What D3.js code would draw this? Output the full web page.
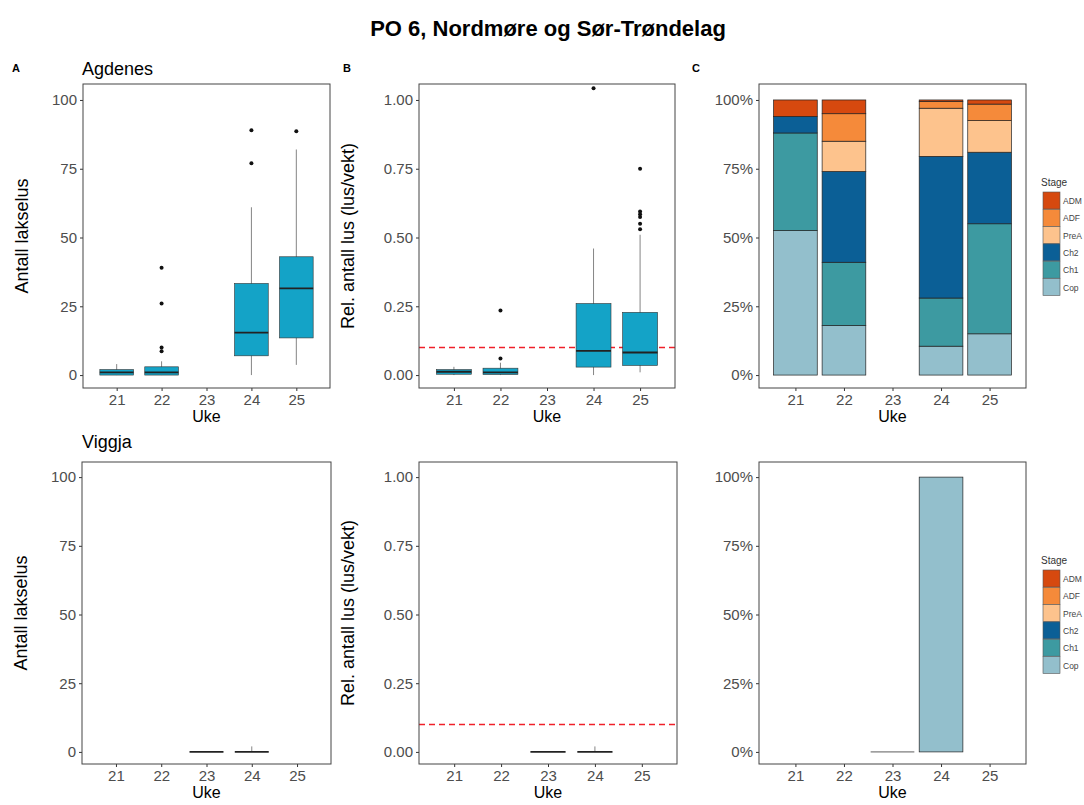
<!DOCTYPE html>
<html><head><meta charset="utf-8">
<script src="https://cdn.jsdelivr.net/npm/d3@7"></script>
<style>body{margin:0;background:#fff}text{font-family:"Liberation Sans",Arial,sans-serif}</style>
</head><body><svg id="c" width="1084" height="805"></svg>
<script>
const weeks = [21,22,23,24,25];
const stages = ["ADM","ADF","PreA","Ch2","Ch1","Cop"];
const stageColors = ["#d6490f","#f58a3a","#fdc38d","#0b5f96","#3d9aa1","#93bfcc"];
// boxplot stats: week, lo, q1, med, q3, hi, outliers
const agdCount = [
  {w:21,lo:0,q1:0,med:1,q3:2,hi:4,out:[]},
  {w:22,lo:0,q1:0,med:1,q3:3,hi:5,out:[39,26,10,8.7]},
  {w:24,lo:0,q1:7,med:15.4,q3:33.3,hi:61,out:[77,89]},
  {w:25,lo:3.7,q1:13.5,med:31.5,q3:43,hi:82,out:[88.6]}
];
const agdRel = [
  {w:21,lo:0,q1:0.003,med:0.012,q3:0.02,hi:0.03,out:[]},
  {w:22,lo:0,q1:0.002,med:0.01,q3:0.025,hi:0.045,out:[0.06,0.235]},
  {w:24,lo:0,q1:0.029,med:0.088,q3:0.26,hi:0.46,out:[1.043]},
  {w:25,lo:0.01,q1:0.035,med:0.082,q3:0.228,hi:0.51,out:[0.53,0.55,0.575,0.585,0.595,0.75]}
];
const vigCount = [
  {w:23,lo:0,q1:0,med:0,q3:0,hi:0,out:[]},
  {w:24,lo:0,q1:0,med:0,q3:0,hi:2,out:[]}
];
const vigRel = [
  {w:23,lo:0,q1:0,med:0,q3:0,hi:0,out:[]},
  {w:24,lo:0,q1:0,med:0,q3:0,hi:0.02,out:[]}
];
// stage shares (%) in order ADM, ADF, PreA, Ch2, Ch1, Cop
const agdStage = [
  {w:21,v:[6,0,0,6,35.5,52.5]},
  {w:22,v:[5,10,11,33,23,18]},
  {w:24,v:[0.5,2.5,17.5,51.5,17.5,10.5]},
  {w:25,v:[1.5,6,11.5,26,40,15]}
];
const vigStage = [
  {w:23,v:[0,0,0,0,0,0]},
  {w:24,v:[0,0,0,0,0,100]}
];
const countTicks=[0,25,50,75,100], relTicks=[0,0.25,0.5,0.75,1.0], pctTicks=[0,25,50,75,100];

const svg=d3.select("#c");
svg.append("text").attr("x",548).attr("y",36).attr("text-anchor","middle").attr("font-size",22).attr("font-weight","bold").text("PO 6, Nordmøre og Sør-Trøndelag");
[["A",12],["B",343],["C",692]].forEach(([t,x])=>svg.append("text").attr("x",x).attr("y",72).attr("font-size",11).attr("font-weight","bold").text(t));
svg.append("text").attr("x",82).attr("y",75).attr("font-size",18).text("Agdenes");
svg.append("text").attr("x",82).attr("y",448).attr("font-size",18).text("Viggja");

function panel(o){
  const g=svg.append("g");
  const x=d3.scaleLinear().domain([20.25,25.75]).range([o.x0,o.x1]);
  const y=d3.scaleLinear().domain(o.yd).range([o.y1,o.y0]);
  const step=x(22)-x(21);
  const ya=g.append("g").attr("transform",`translate(${o.x0},0)`).call(d3.axisLeft(y).tickValues(o.ticks).tickFormat(o.fmt).tickSize(3).tickPadding(3));
  const xa=g.append("g").attr("transform",`translate(0,${o.y1})`).call(d3.axisBottom(x).tickValues(weeks).tickFormat(d3.format("d")).tickSize(3).tickPadding(3));
  [ya,xa].forEach(a=>{a.select(".domain").remove();a.selectAll("line").attr("stroke","#333");a.selectAll("text").attr("font-size",15).attr("fill","#4d4d4d").attr("font-family","Liberation Sans, Arial");});
  g.append("text").attr("x",(o.x0+o.x1)/2).attr("y",o.y1+34).attr("text-anchor","middle").attr("font-size",16).text("Uke");
  if(o.ylab) g.append("text").attr("transform",`translate(${o.x0-o.lo},${(o.y0+o.y1)/2}) rotate(-90)`).attr("text-anchor","middle").attr("font-size",18).text(o.ylab);
  if(o.hline!=null) g.append("line").attr("x1",o.x0).attr("x2",o.x1).attr("y1",y(o.hline)).attr("y2",y(o.hline)).attr("stroke","#f0202a").attr("stroke-width",1.6).attr("stroke-dasharray","6,4");
  if(o.box){
    const bw=step*0.75;
    o.box.forEach(d=>{
      const cx=x(d.w);
      g.append("line").attr("x1",cx).attr("x2",cx).attr("y1",y(d.lo)).attr("y2",y(d.hi)).attr("stroke","#333").attr("stroke-width",0.6);
      g.append("rect").attr("x",cx-bw/2).attr("width",bw).attr("y",y(d.q3)).attr("height",Math.max(0,y(d.q1)-y(d.q3))).attr("fill","#14a3c7").attr("stroke","#333").attr("stroke-width",0.6);
      g.append("line").attr("x1",cx-bw/2).attr("x2",cx+bw/2).attr("y1",y(d.med)).attr("y2",y(d.med)).attr("stroke","#222").attr("stroke-width",1.8);
      d.out.forEach(v=>g.append("circle").attr("cx",cx).attr("cy",y(v)).attr("r",2).attr("fill","#111"));
    });
  }
  if(o.stack){
    const bw=step*0.9;
    o.stack.forEach(d=>{
      let cum=0;
      const tot=d3.sum(d.v);
      if(tot===0){g.append("line").attr("x1",x(d.w)-bw/2).attr("x2",x(d.w)+bw/2).attr("y1",y(0)).attr("y2",y(0)).attr("stroke","#333").attr("stroke-width",0.8);return;}
      for(let i=stages.length-1;i>=0;i--){
        const v=d.v[i]; if(v<=0) continue;
        g.append("rect").attr("x",x(d.w)-bw/2).attr("width",bw).attr("y",y(cum+v)).attr("height",y(cum)-y(cum+v)).attr("fill",stageColors[i]).attr("stroke","#222").attr("stroke-width",0.7);
        cum+=v;
      }
    });
  }
  g.append("rect").attr("x",o.x0).attr("y",o.y0).attr("width",o.x1-o.x0).attr("height",o.y1-o.y0).attr("fill","none").attr("stroke","#444").attr("stroke-width",1);
}
function legend(y0){
  const g=svg.append("g");
  g.append("text").attr("x",1041).attr("y",y0).attr("font-size",10).attr("fill","#333").text("Stage");
  stages.forEach((s,i)=>{
    g.append("rect").attr("x",1043).attr("y",y0+6+i*17.3).attr("width",17).attr("height",17).attr("fill",stageColors[i]).attr("stroke","#555").attr("stroke-width",0.6);
    g.append("text").attr("x",1063).attr("y",y0+18+i*17.3).attr("font-size",8.5).attr("fill","#444").text(s);
  });
}
const pctFmt=d=>d+"%", relFmt=d3.format(".2f");
panel({x0:83,x1:330,y0:84,y1:388,yd:[-4.7,105.8],ticks:countTicks,fmt:d3.format("d"),ylab:"Antall lakselus",lo:55,box:agdCount});
panel({x0:419,x1:675,y0:84,y1:388,yd:[-0.047,1.058],ticks:relTicks,fmt:relFmt,ylab:"Rel. antall lus (lus/vekt)",lo:65,hline:0.1,box:agdRel});
panel({x0:759,x1:1026,y0:84,y1:388,yd:[-4.7,105.8],ticks:pctTicks,fmt:pctFmt,stack:agdStage});
panel({x0:82,x1:331,y0:462,y1:764,yd:[-4.4,105.5],ticks:countTicks,fmt:d3.format("d"),ylab:"Antall lakselus",lo:55,box:vigCount});
panel({x0:419,x1:677,y0:462,y1:764,yd:[-0.044,1.055],ticks:relTicks,fmt:relFmt,ylab:"Rel. antall lus (lus/vekt)",lo:65,hline:0.1,box:vigRel});
panel({x0:759,x1:1026,y0:462,y1:764,yd:[-4.4,105.5],ticks:pctTicks,fmt:pctFmt,stack:vigStage});
legend(186); legend(564);
</script></body></html>
